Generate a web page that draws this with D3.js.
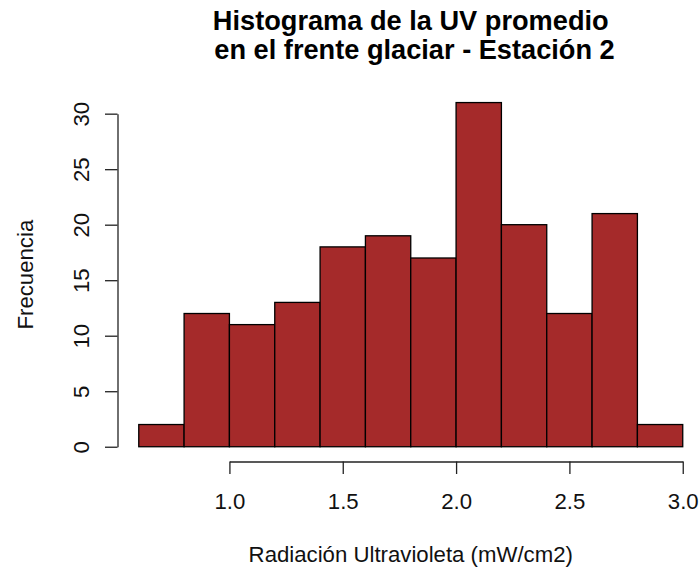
<!DOCTYPE html>
<html>
<head>
<meta charset="utf-8">
<script src="https://cdn.jsdelivr.net/npm/d3@7"></script>
<style>
  html, body { margin: 0; padding: 0; background: #ffffff; }
  svg { display: block; font-family: "Liberation Sans", Arial, Helvetica, sans-serif; }
</style>
</head>
<body>
<svg id="chart" width="700" height="574"></svg>
<script>
// Histogram bins (lower/upper edges) and counts
const binStarts = [0.6, 0.8, 1.0, 1.2, 1.4, 1.6, 1.8, 2.0, 2.2, 2.4, 2.6, 2.8];
const binEnds   = [0.8, 1.0, 1.2, 1.4, 1.6, 1.8, 2.0, 2.2, 2.4, 2.6, 2.8, 3.0];
const counts    = [2, 12, 11, 13, 18, 19, 17, 31, 20, 12, 21, 2];

const xTicks = [1.0, 1.5, 2.0, 2.5, 3.0];
const yTicks = [0, 5, 10, 15, 20, 25, 30];

const titleLines = ["Histograma de la UV promedio", " en el frente glaciar - Estación 2"];
const xTitle = "Radiación Ultravioleta (mW/cm2)";
const yTitle = "Frecuencia";

const svg = d3.select("#chart");
const baseSize = 22.2;

// Plot region (data range padded by 4% on each side)
const xMin = 0.6, xMax = 3.0, yMax = 31;
const xPad = (xMax - xMin) * 0.04, yPad = yMax * 0.04;
const x = d3.scaleLinear().domain([xMin - xPad, xMax + xPad]).range([117, 704.5]);
const y = d3.scaleLinear().domain([-yPad, yMax + yPad]).range([460.5, 88.8]);

// Bars
svg.append("g")
  .selectAll("rect")
  .data(counts)
  .join("rect")
  .attr("x", (d, i) => x(binStarts[i]))
  .attr("width", (d, i) => x(binEnds[i]) - x(binStarts[i]))
  .attr("y", d => y(d))
  .attr("height", d => y(0) - y(d))
  .attr("fill", "#a52a2a")
  .attr("stroke", "#000")
  .attr("stroke-width", 1.3);

// X axis, spanning the tick range only
const xAxisScale = d3.scaleLinear().domain([1.0, 3.0]).range([x(1.0), x(3.0)]);
const xAxis = svg.append("g")
  .attr("transform", "translate(0,461.5)")
  .call(d3.axisBottom(xAxisScale).tickValues(xTicks).tickSize(12.5).tickSizeOuter(0).tickPadding(0)
        .tickFormat(d3.format(".1f")));
xAxis.select(".domain").attr("stroke", "#222").attr("stroke-width", 1.3);
xAxis.selectAll(".tick line").attr("stroke", "#222").attr("stroke-width", 1.3);
xAxis.selectAll(".tick text")
  .attr("y", 47.5).attr("dy", null)
  .attr("font-size", baseSize).attr("fill", "#111");

// Y axis
const yAxisScale = d3.scaleLinear().domain([0, 30]).range([y(0), y(30)]);
const yAxis = svg.append("g")
  .attr("transform", "translate(117.5,0)")
  .call(d3.axisLeft(yAxisScale).tickValues(yTicks).tickSize(12.5).tickSizeOuter(0).tickPadding(0));
yAxis.select(".domain").attr("stroke", "#222").attr("stroke-width", 1.3);
yAxis.selectAll(".tick line").attr("stroke", "#222").attr("stroke-width", 1.3);
yAxis.selectAll(".tick text")
  .attr("x", null).attr("dy", null)
  .attr("text-anchor", "middle")
  .attr("transform", "translate(-29,0) rotate(-90)")
  .attr("font-size", baseSize).attr("fill", "#111");

// Titles
const cx = (x.range()[0] + x.range()[1]) / 2;
svg.append("g").selectAll("text")
  .data(titleLines)
  .join("text")
  .attr("x", cx)
  .attr("y", (d, i) => 29.5 + i * 29.5)
  .attr("text-anchor", "middle")
  .attr("font-size", 27.2)
  .attr("font-weight", "bold")
  .attr("fill", "#000")
  .style("white-space", "pre")
  .text(d => d);

svg.append("text")
  .attr("x", cx)
  .attr("y", 561.5)
  .attr("text-anchor", "middle")
  .attr("font-size", baseSize)
  .attr("fill", "#111")
  .text(xTitle);

const cy = (y.range()[0] + y.range()[1]) / 2;
svg.append("text")
  .attr("transform", `translate(32.5,${cy}) rotate(-90)`)
  .attr("text-anchor", "middle")
  .attr("font-size", baseSize)
  .attr("fill", "#111")
  .text(yTitle);
</script>
</body>
</html>
